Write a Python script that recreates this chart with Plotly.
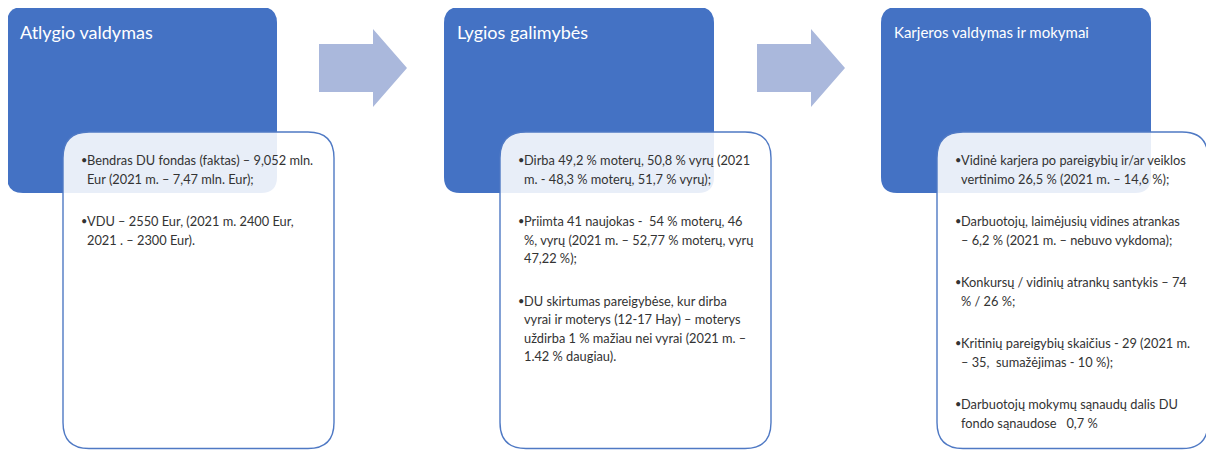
import plotly.graph_objects as go

# ---- content ----
titles = ["Atlygio valdymas", "Lygios galimybės", "Karjeros valdymas ir mokymai"]
title_sizes = [18, 18, 15]

bullets_1 = [
    ["Bendras DU fondas (faktas) – 9,052 mln.", "Eur (2021 m. – 7,47 mln. Eur);"],
    ["VDU – 2550 Eur, (2021 m. 2400 Eur,", "2021 . – 2300 Eur)."],
]
bullets_2 = [
    ["Dirba 49,2 % moterų, 50,8 % vyrų (2021", "m. - 48,3 % moterų, 51,7 % vyrų);"],
    ["Priimta 41 naujokas -  54 % moterų, 46", "%, vyrų (2021 m. – 52,77 % moterų, vyrų", "47,22 %);"],
    ["DU skirtumas pareigybėse, kur dirba", "vyrai ir moterys (12-17 Hay) – moterys",
     "uždirba 1 % mažiau nei vyrai (2021 m. –", "1.42 % daugiau)."],
]
bullets_3 = [
    ["Vidinė karjera po pareigybių ir/ar veiklos", "vertinimo 26,5 % (2021 m. – 14,6 %);"],
    ["Darbuotojų, laimėjusių vidines atrankas", "– 6,2 % (2021 m. – nebuvo vykdoma);"],
    ["Konkursų / vidinių atrankų santykis – 74", "% / 26 %;"],
    ["Kritinių pareigybių skaičius - 29 (2021 m.", "– 35,  sumažėjimas - 10 %);"],
    ["Darbuotojų mokymų sąnaudų dalis DU", "fondo sąnaudose   0,7 %"],
]
panels = [bullets_1, bullets_2, bullets_3]

# ---- layout constants ----
# the page body has an 8px margin, so the figure is offset by 8px;
# coordinates below are in page pixels.
OFF = 8
W, H = 1214 - OFF, 450 - OFF
panel_x = [7, 444, 881]
BLUE = "#4472C4"
ARROW = "#AAB8DC"
TEXT = "#333333"
FONT = "Lato"


def rrect(x0, y0, x1, y1, r):
    return (f"M {x0+r},{y0} L {x1-r},{y0} Q {x1},{y0} {x1},{y0+r} "
            f"L {x1},{y1-r} Q {x1},{y1} {x1-r},{y1} L {x0+r},{y1} "
            f"Q {x0},{y1} {x0},{y1-r} L {x0},{y0+r} Q {x0},{y0} {x0+r},{y0} Z")


shapes = []
annotations = []

for i, px in enumerate(panel_x):
    # blue header box
    shapes.append(dict(type="path", path=rrect(px, 7, px + 270, 193, 16),
                       fillcolor=BLUE, line=dict(width=0), layer="above"))
    # white content box
    shapes.append(dict(type="path", path=rrect(px + 56, 132, px + 327, 448.5, 26),
                       fillcolor="rgba(255,255,255,0.88)",
                       line=dict(color="#4F79C4", width=1.4), layer="above"))
    # title
    annotations.append(dict(x=px + 11, y=32, xref="x", yref="y", text=titles[i],
                            showarrow=False, xanchor="left", yanchor="middle",
                            font=dict(family=FONT, size=title_sizes[i], color="white")))
    # bullets
    y = 160.0
    L, G = 18.6, 23.8
    for para in panels[i]:
        annotations.append(dict(x=px + 72, y=y - 0.5, xref="x", yref="y", text="•",
                                showarrow=False, xanchor="left", yanchor="middle",
                                font=dict(family=FONT, size=11, color=TEXT)))
        for j, line in enumerate(para):
            annotations.append(dict(x=px + 78, y=y + j * L, xref="x", yref="y",
                                    text=line, showarrow=False, xanchor="left",
                                    yanchor="middle",
                                    font=dict(family=FONT, size=12.8, color=TEXT)))
        y += len(para) * L + G

# arrows between panels
for ax in [319, 757]:
    path = (f"M {ax},44 L {ax+54},44 L {ax+54},29 L {ax+88},68 "
            f"L {ax+54},107 L {ax+54},92 L {ax},92 Z")
    shapes.append(dict(type="path", path=path, fillcolor=ARROW,
                       line=dict(width=0), layer="above"))

fig = go.Figure()
fig.update_layout(
    width=W, height=H,
    margin=dict(l=0, r=0, t=0, b=0),
    paper_bgcolor="white", plot_bgcolor="white",
    xaxis=dict(range=[OFF, OFF + W], visible=False, fixedrange=True),
    yaxis=dict(range=[OFF + H, OFF], visible=False, fixedrange=True),
    shapes=shapes, annotations=annotations,
    showlegend=False,
)
fig.write_html("out.html")
